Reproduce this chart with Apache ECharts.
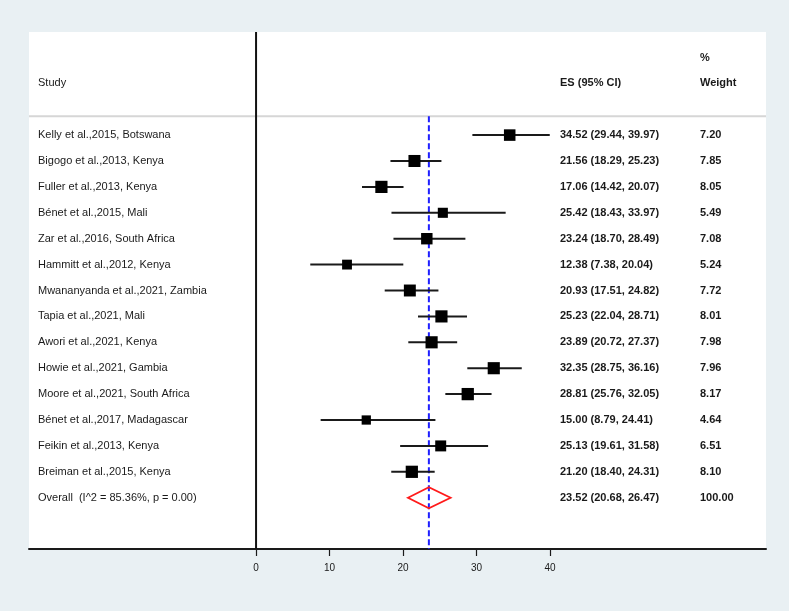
<!DOCTYPE html>
<html>
<head>
<meta charset="utf-8">
<script src="https://cdn.jsdelivr.net/npm/echarts@6/dist/echarts.min.js"></script>
<style>
html,body{margin:0;padding:0;background:#e9f0f3;}
#main{width:789px;height:611px;}
</style>
</head>
<body>
<div id="main"></div>
<script>
const studies = [
  "Kelly et al.,2015, Botswana",
  "Bigogo et al.,2013, Kenya",
  "Fuller et al.,2013, Kenya",
  "Bénet et al.,2015, Mali",
  "Zar et al.,2016, South Africa",
  "Hammitt et al.,2012, Kenya",
  "Mwananyanda et al.,2021, Zambia",
  "Tapia et al.,2021, Mali",
  "Awori et al.,2021, Kenya",
  "Howie et al.,2021, Gambia",
  "Moore et al.,2021, South Africa",
  "Bénet et al.,2017, Madagascar",
  "Feikin et al.,2013, Kenya",
  "Breiman et al.,2015, Kenya"
];
const es     = [34.52, 21.56, 17.06, 25.42, 23.24, 12.38, 20.93, 25.23, 23.89, 32.35, 28.81, 15.00, 25.13, 21.20];
const ciLow  = [29.44, 18.29, 14.42, 18.43, 18.70,  7.38, 17.51, 22.04, 20.72, 28.75, 25.76,  8.79, 19.61, 18.40];
const ciHigh = [39.97, 25.23, 20.07, 33.97, 28.49, 20.04, 24.82, 28.71, 27.37, 36.16, 32.05, 24.41, 31.58, 24.31];
const weights = [7.20, 7.85, 8.05, 5.49, 7.08, 5.24, 7.72, 8.01, 7.98, 7.96, 8.17, 4.64, 6.51, 8.10];
const overallLabel = "Overall  (I^2 = 85.36%, p = 0.00)";
const overall = {es: 23.52, lo: 20.68, hi: 26.47, weight: "100.00"};
const xTicks = [0, 10, 20, 30, 40];

const FONT = "'Liberation Sans', Arial, sans-serif";
const X_MIN = -30.9, X_MAX = 69.4;
const Y_MIN = -3.98, Y_MAX = 15.98;
const HEADER_Y = -0.73;
const COL_STUDY = 38, COL_ES = 560, COL_W = 700;

function fmt(v){ return v.toFixed(2); }

const rowData = studies.map((s, i) => [i, es[i], ciLow[i], ciHigh[i], weights[i]]);
const ovIndex = studies.length;

const chart = echarts.init(document.getElementById('main'), null, {renderer: 'canvas'});

function textEl(x, y, text, bold) {
  return {
    type: 'text', x: x, y: y,
    style: {text: text, fill: '#1a1a1a', font: (bold ? 'bold ' : '') + '11px ' + FONT, textAlign: 'left', textVerticalAlign: 'middle'}
  };
}

const option = {
  backgroundColor: '#e9f0f3',
  animation: false,
  grid: {left: 29, right: 23, top: 32, bottom: 62, show: true, backgroundColor: '#ffffff', borderWidth: 0},
  xAxis: {
    type: 'value', min: X_MIN, max: X_MAX,
    axisLine: {show: true, onZero: false, lineStyle: {color: '#1a1a1a', width: 2}},
    axisTick: {show: true, customValues: xTicks, length: 7, lineStyle: {color: '#1a1a1a', width: 1.2}},
    axisLabel: {show: true, customValues: xTicks, fontSize: 10, fontFamily: FONT, color: '#1a1a1a', margin: 14},
    splitLine: {show: false}
  },
  yAxis: {type: 'value', min: Y_MIN, max: Y_MAX, inverse: true, show: false},
  graphic: [
    textEl(COL_STUDY, 83, 'Study', false),
    textEl(COL_ES, 83, 'ES (95% CI)', true),
    textEl(COL_W, 58, '%', true),
    textEl(COL_W, 83, 'Weight', true)
  ],
  series: [
    {
      type: 'line', silent: true, symbol: 'none',
      data: [[X_MIN, HEADER_Y], [X_MAX, HEADER_Y]],
      lineStyle: {color: '#d6d6d6', width: 2}, z: 1
    },
    {
      type: 'line', silent: true, symbol: 'none',
      data: [[0, Y_MIN], [0, Y_MAX]],
      lineStyle: {color: '#111111', width: 2}, z: 2
    },
    {
      type: 'line', silent: true, symbol: 'none',
      data: [[overall.es, HEADER_Y], [overall.es, Y_MAX]],
      lineStyle: {color: '#1f1fff', width: 2, type: [6, 3]}, z: 3
    },
    {
      type: 'custom', silent: true, z: 5,
      data: rowData,
      renderItem: function(params, api) {
        const i = api.value(0), e = api.value(1), lo = api.value(2), hi = api.value(3), w = api.value(4);
        const pL = api.coord([lo, i]), pH = api.coord([hi, i]), pE = api.coord([e, i]);
        const sz = 4.3 * Math.sqrt(w);
        return {
          type: 'group',
          children: [
            {type: 'line', shape: {x1: pL[0], y1: pL[1], x2: pH[0], y2: pH[1]}, style: {stroke: '#1a1a1a', lineWidth: 2}},
            {type: 'rect', shape: {x: pE[0] - sz / 2, y: pE[1] - sz / 2, width: sz, height: sz}, style: {fill: '#000000'}},
            textEl(COL_STUDY, pE[1], studies[i], false),
            textEl(COL_ES, pE[1], fmt(e) + ' (' + fmt(lo) + ', ' + fmt(hi) + ')', true),
            textEl(COL_W, pE[1], fmt(w), true)
          ]
        };
      }
    },
    {
      type: 'custom', silent: true, z: 6,
      data: [[ovIndex, overall.es, overall.lo, overall.hi]],
      renderItem: function(params, api) {
        const i = api.value(0), e = api.value(1), lo = api.value(2), hi = api.value(3);
        const pL = api.coord([lo, i]), pH = api.coord([hi, i]), pE = api.coord([e, i]);
        const h = 10.5;
        return {
          type: 'group',
          children: [
            {type: 'polygon', shape: {points: [[pL[0], pE[1]], [pE[0], pE[1] - h], [pH[0], pE[1]], [pE[0], pE[1] + h]]},
             style: {fill: 'none', stroke: '#ff1a1a', lineWidth: 1.8}},
            textEl(COL_STUDY, pE[1], overallLabel, false),
            textEl(COL_ES, pE[1], fmt(e) + ' (' + fmt(lo) + ', ' + fmt(hi) + ')', true),
            textEl(COL_W, pE[1], overall.weight, true)
          ]
        };
      }
    }
  ]
};
chart.setOption(option);
</script>
</body>
</html>
